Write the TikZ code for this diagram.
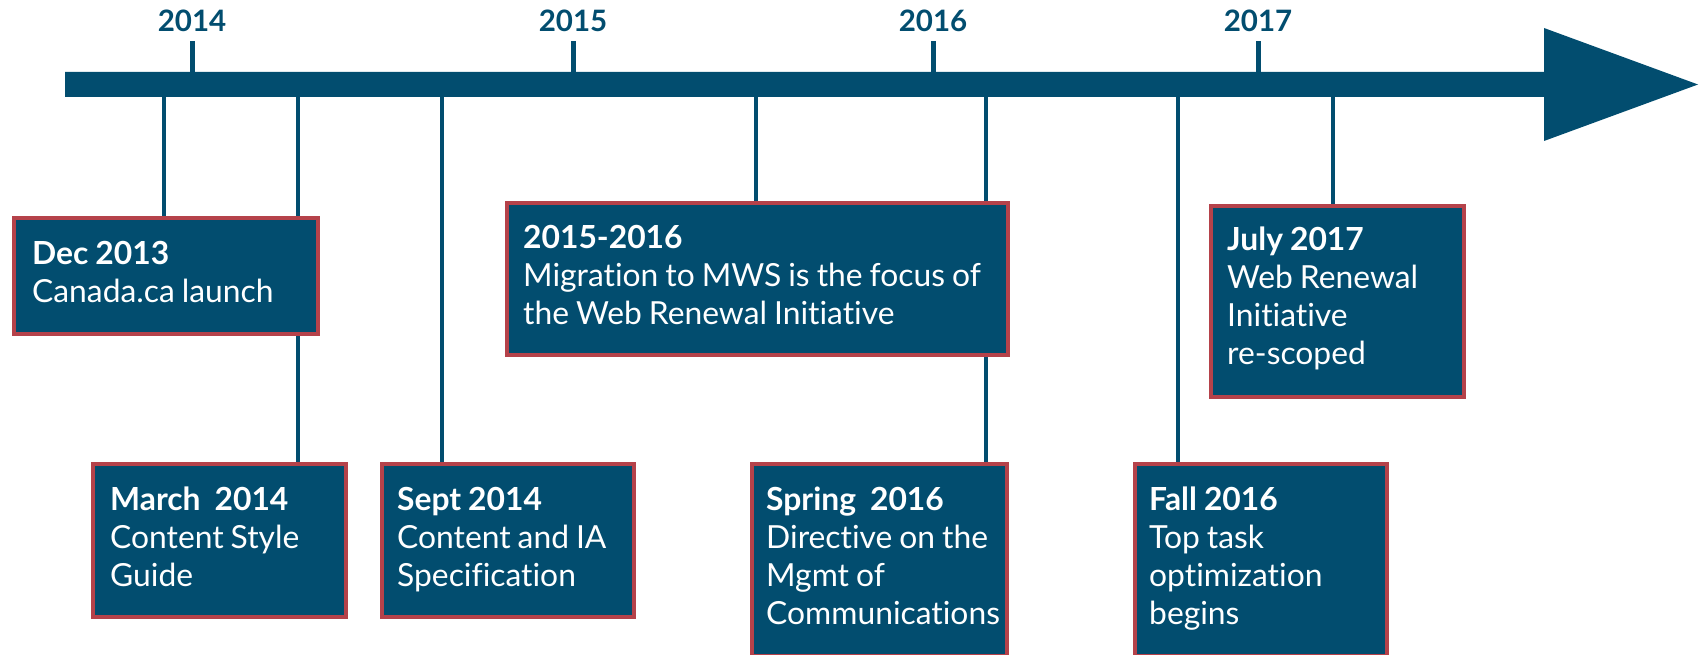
\documentclass[tikz,border=0pt]{standalone}
\usepackage{fontspec}
\setmainfont{Lato}[Ligatures=NoCommon]
\usetikzlibrary{backgrounds}
\definecolor{tlblue}{RGB}{2,77,111}
\definecolor{tlred}{RGB}{181,66,74}
\newcommand{\evfont}{\fontsize{31.8}{38}\selectfont\spaceskip 0.22em\relax}

\begin{document}
\begin{tikzpicture}[x=1pt,y=-1pt,
  evbox/.style={draw=tlred, line width=4pt, fill=tlblue, anchor=north west, inner sep=0pt},
  evtext/.style={anchor=base west, inner sep=0pt, text=white, align=flush left, text width=300, font=\evfont},
  year/.style={text=tlblue, inner sep=0pt, anchor=base, font=\bfseries\fontsize{29.5}{32}\selectfont},
  tick/.style={draw=tlblue, line width=5pt},
  conn/.style={draw=tlblue, line width=3.3pt}]
\useasboundingbox (0,0) rectangle (1700,655);
% timeline arrow
\fill[tlblue] (65,72) -- (1544,72) -- (1544,28) -- (1698,84.5) -- (1544,141) -- (1544,97) -- (65,97) -- cycle;
\coordinate (bartop) at (65,72);
\coordinate (barbot) at (65,97);
% years
\node[year] (y2014) at (192,32) {2014};
\node[year] (y2015) at (573,32) {2015};
\node[year] (y2016) at (933,32) {2016};
\node[year] (y2017) at (1258,32) {2017};
\draw[tick] (y2014.south) ++(0,9) -- (y2014.south |- bartop);
\draw[tick] (y2015.south) ++(0,9) -- (y2015.south |- bartop);
\draw[tick] (y2016.south) ++(0,9) -- (y2016.south |- bartop);
\draw[tick] (y2017.south) ++(0,9) -- (y2017.south |- bartop);
% where the connectors leave the bar
\coordinate (cdec) at (164,97);
\coordinate (cmar) at (298,97);
\coordinate (csep) at (442,97);
\coordinate (cmws) at (756,97);
\coordinate (cspr) at (986,97);
\coordinate (cfal) at (1178,97);
\coordinate (cjul) at (1333,97);
% boxes
\node[evbox, minimum width=304, minimum height=116] (dec) at (12,216) {};
\node[evbox, minimum width=501, minimum height=152] (mws) at (505,201) {};
\node[evbox, minimum width=253, minimum height=191] (jul) at (1209,204) {};
\node[evbox, minimum width=253, minimum height=153] (mar) at (91,462) {};
\node[evbox, minimum width=252, minimum height=153] (sep) at (380,462) {};
\node[evbox, minimum width=255, minimum height=192] (spr) at (750,462) {};
\node[evbox, minimum width=252, minimum height=192] (fal) at (1133,462) {};
% texts
\node[evtext] (dec-t) at (32,264) {\textbf{Dec 2013}\\Canada.ca launch};
\node[evtext, text width=500] (mws-t) at (523,248) {\textbf{2015-2016}\\Migration to MWS is the focus of\\the Web Renewal Initiative};
\node[evtext] (jul-t) at (1227,251) {\textbf{July 2017}\\Web Renewal\\Initiative\\re-scoped};
\node[evtext] (mar-t) at (110,510) {\textbf{March~~2014}\\Content Style\\Guide};
\node[evtext] (sep-t) at (397,510) {\textbf{Sept 2014}\\Content and IA\\Specification};
\node[evtext] (spr-t) at (766,510) {\textbf{Spring~~2016}\\Directive on the\\Mgmt of\\Communications};
\node[evtext] (fal-t) at (1149,510) {\textbf{Fall 2016}\\Top task\\optimization\\begins};
% connectors, behind the boxes
\begin{scope}[on background layer]
\draw[conn] (cdec) -- (cdec |- dec.north);
\draw[conn] (cmar) -- (cmar |- mar.north);
\draw[conn] (csep) -- (csep |- sep.north);
\draw[conn] (cmws) -- (cmws |- mws.north);
\draw[conn] (cspr) -- (cspr |- spr.north);
\draw[conn] (cfal) -- (cfal |- fal.north);
\draw[conn] (cjul) -- (cjul |- jul.north);
\end{scope}
\end{tikzpicture}
\end{document}
